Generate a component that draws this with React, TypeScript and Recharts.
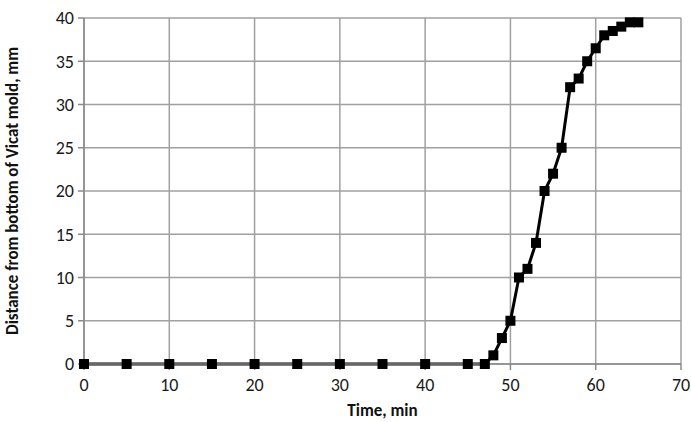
import React from 'react';
import { LineChart, Line, XAxis, YAxis, CartesianGrid } from 'recharts';

const times = [0, 5, 10, 15, 20, 25, 30, 35, 40, 45, 47, 48, 49, 50, 51, 52, 53, 54, 55, 56, 57, 58, 59, 60, 61, 62, 63, 64, 65];
const distances = [0, 0, 0, 0, 0, 0, 0, 0, 0, 0, 0, 1, 3, 5, 10, 11, 14, 20, 22, 25, 32, 33, 35, 36.5, 38, 38.5, 39, 39.5, 39.5];
const xTicks = [0, 10, 20, 30, 40, 50, 60, 70];
const yTicks = [0, 5, 10, 15, 20, 25, 30, 35, 40];

const data = times.map((t, i) => ({ t, d: distances[i] }));

const font = 'Carlito, Lato, "Open Sans", sans-serif';

const SquareDot = (props: any) => {
  const { cx, cy } = props;
  if (cx == null || cy == null) return null;
  return <rect x={cx - 5} y={cy - 5} width={10} height={10} fill="#000" />;
};

export default function App() {
  return (
    <div style={{ position: 'absolute', left: 0, top: 0, background: '#fff', fontFamily: font }}>
      <LineChart width={691} height={422} data={data} margin={{ top: 18, right: 10, bottom: 0, left: 0 }}>
        <CartesianGrid stroke="#a0a0a0" strokeWidth={1.5} />
        <XAxis
          dataKey="t"
          type="number"
          domain={[0, 70]}
          ticks={xTicks}
          height={58}
          stroke="#8a8a8a"
          strokeWidth={1.5}
          tickSize={6}
          tickMargin={8}
          fontSize={18}
          fontFamily={font}
          tick={{ fill: '#1a1a1a', fontSize: 18 }}
          label={{ value: 'Time, min', position: 'insideBottom', offset: 6, fill: '#111', style: { fontSize: '17px', fontWeight: 'bold', fontFamily: font } }}
        />
        <YAxis
          type="number"
          domain={[0, 40]}
          ticks={yTicks}
          width={84}
          stroke="#8a8a8a"
          strokeWidth={1.5}
          tickSize={6}
          tickMargin={4}
          fontSize={18}
          fontFamily={font}
          tick={{ fill: '#1a1a1a', fontSize: 18 }}
          label={{ value: 'Distance from bottom of Vicat mold, mm', angle: -90, position: 'insideLeft', offset: 12, fill: '#111', style: { textAnchor: 'middle', fontSize: '17px', fontWeight: 'bold', fontFamily: font } }}
        />
        <Line
          type="linear"
          dataKey="d"
          stroke="#000"
          strokeWidth={3}
          dot={<SquareDot />}
          activeDot={false}
          isAnimationActive={false}
        />
      </LineChart>
    </div>
  );
}
